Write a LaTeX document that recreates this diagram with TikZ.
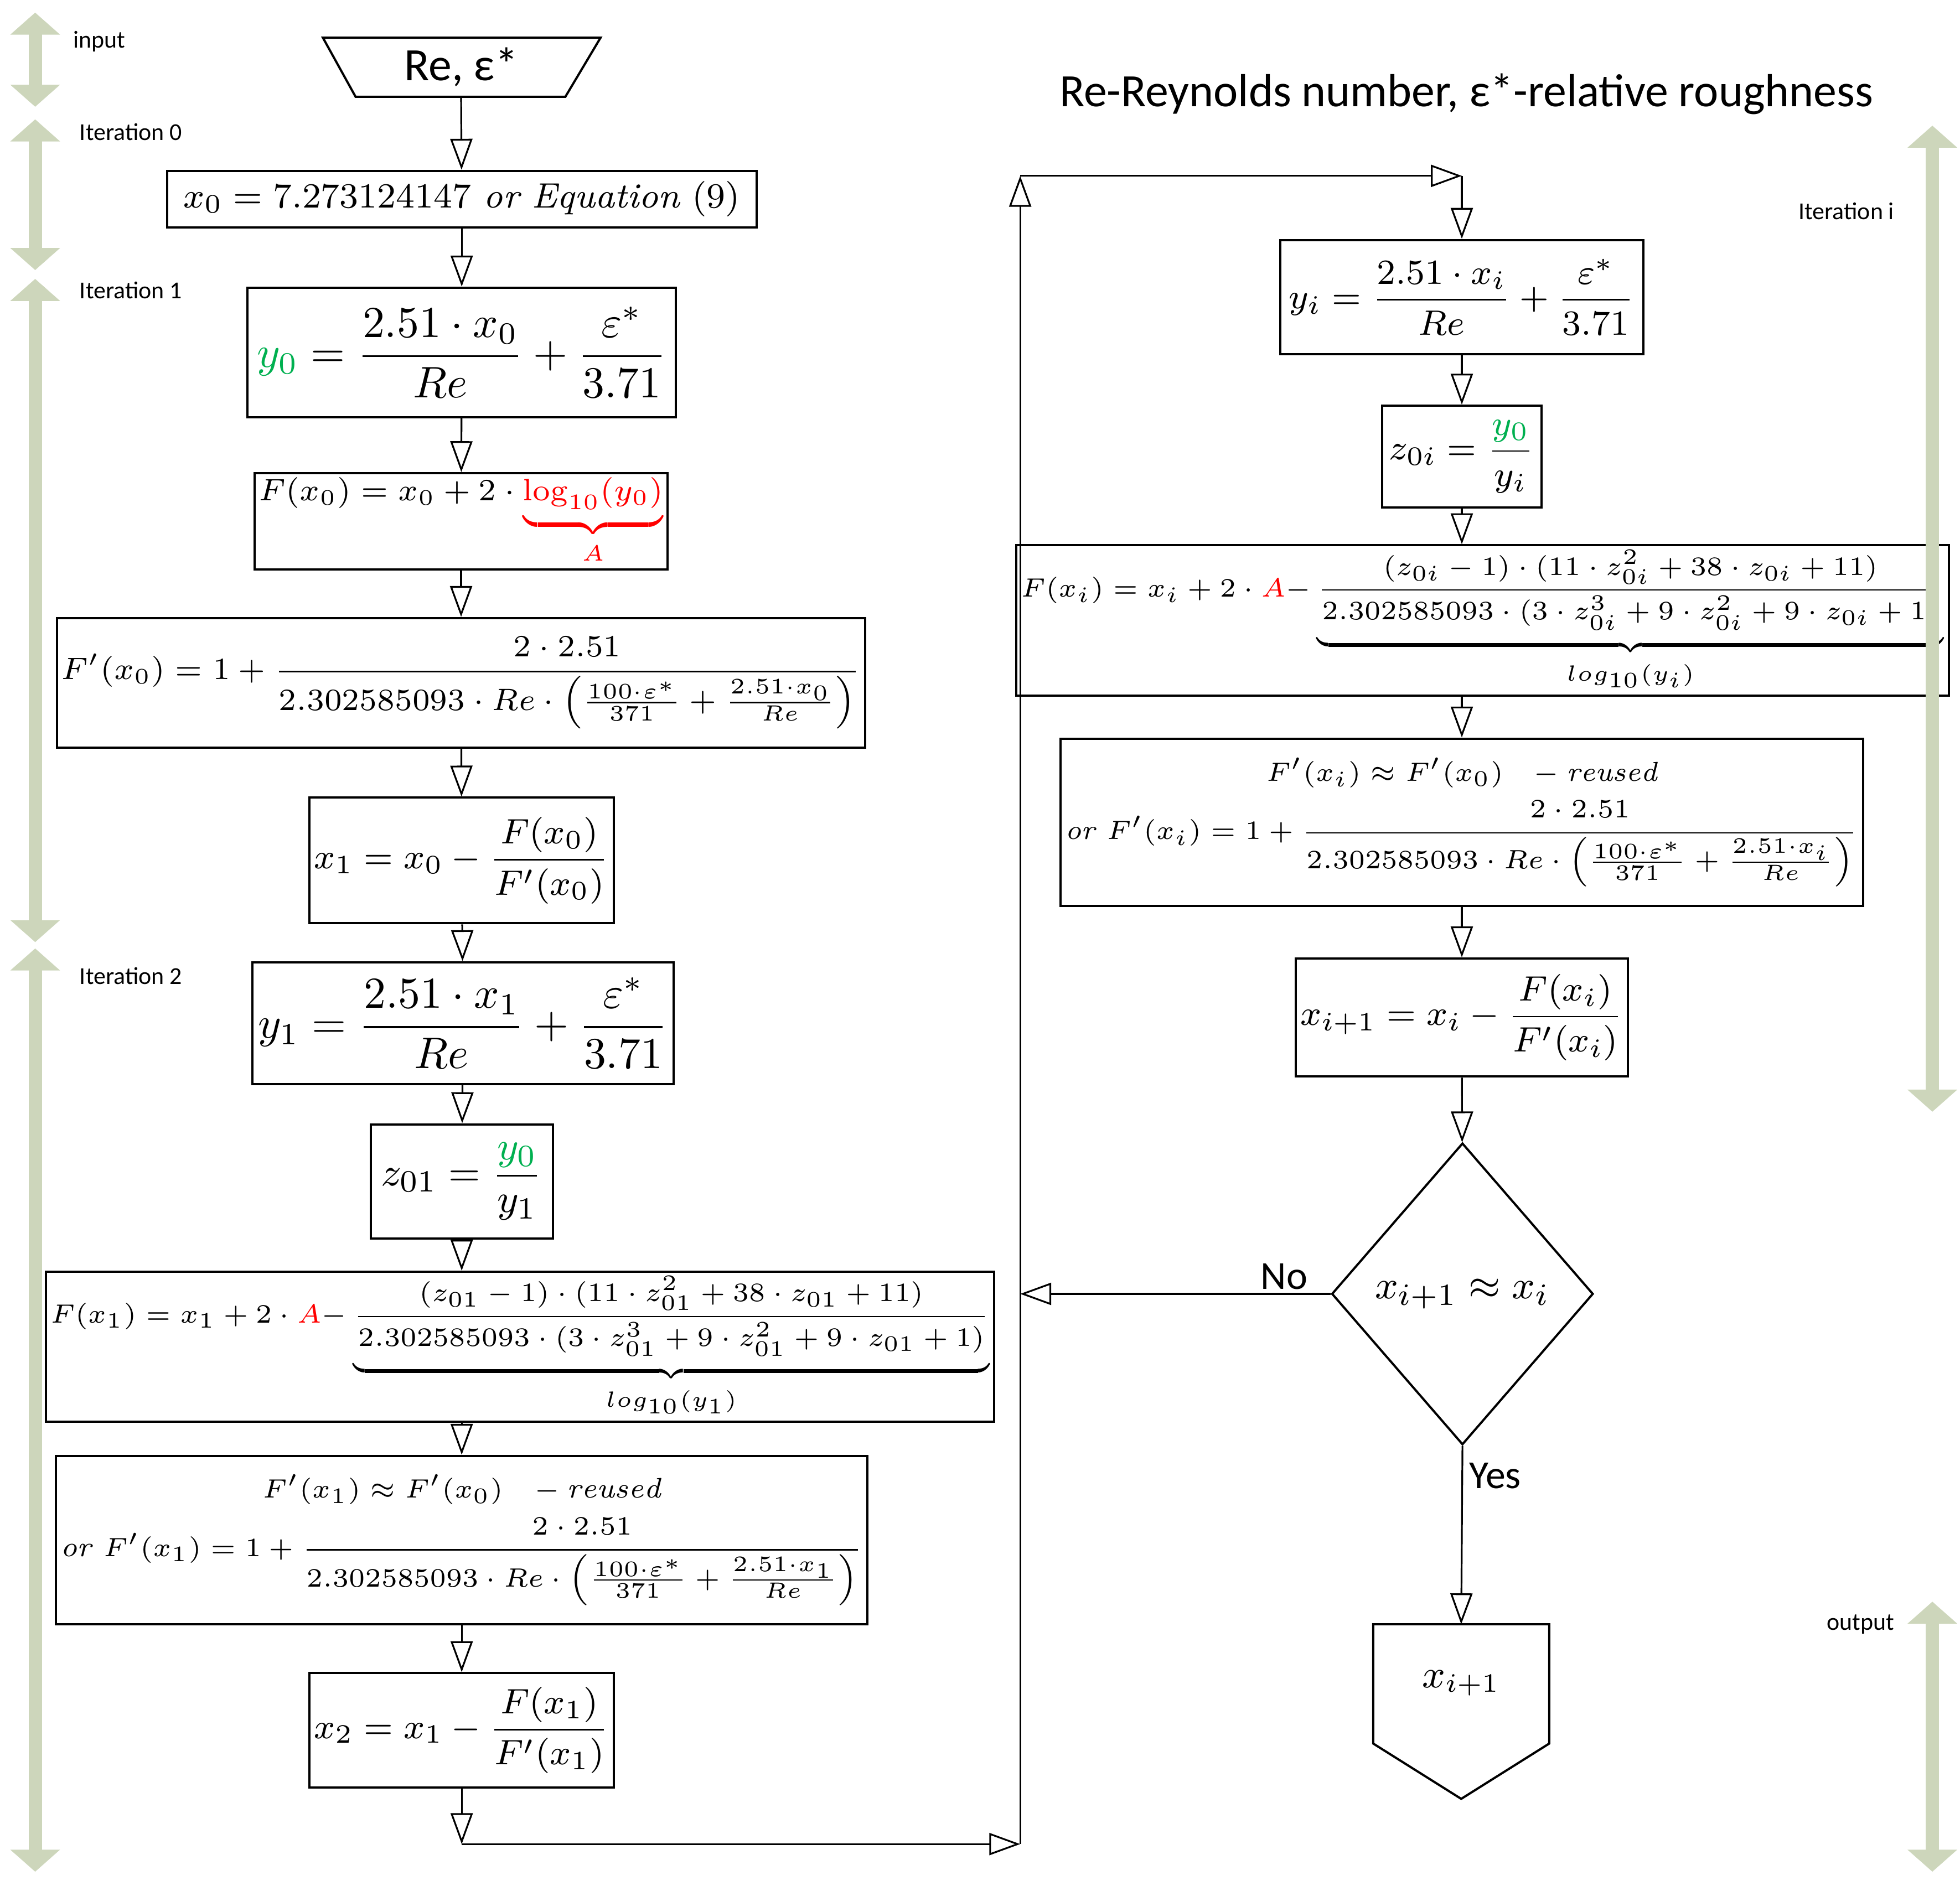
\documentclass[tikz,border=0pt]{standalone}
\usepackage{amsmath}
\usepackage{fontspec}
\setsansfont{Carlito}
\usetikzlibrary{shapes.geometric,arrows.meta,calc}
\definecolor{eqgreen}{HTML}{00B050}
\definecolor{spangreen}{HTML}{CDD6BB}
\newcommand{\fs}[1]{\fontsize{#1}{#1}\selectfont}
\begin{document}
\begin{tikzpicture}[x=0.01cm,y=-0.01cm,
  box/.style={draw,rectangle,inner sep=1pt,line width=0.5pt},
  flow/.style={-{Triangle[open,width=5pt,length=7pt]},line width=0.4pt},
  span/.style={{Triangle[width=11pt,length=5pt]}-{Triangle[width=11pt,length=5pt]},line width=3pt,spangreen},
  lbl/.style={font=\sffamily\fs{5.5}}]
\useasboundingbox (0,0) rectangle (1560,1505);

% Input
\draw[line width=0.5pt] (257,30) -- (478,30) -- (450,77) -- (283,77) -- cycle;
\node (in) at (367,53.5) [minimum height=0.47cm,inner sep=0,font=\sffamily\fs{10.5}] {Re, ε*};
\node at (1167,75) [font=\sffamily\fs{10.5}] {Re-Reynolds number, ε*-relative roughness};

% Iterations 0, 1, 2
\node (x0) at (367.5,158.5) [box,minimum width=4.69cm,minimum height=0.45cm,font=\fs{8}]
  {$x_0 = 7.273124147\ \mathit{or\ Equation}\ (9)$};
\node (y0) at (367.5,280.5) [box,minimum width=3.41cm,minimum height=1.03cm,font=\fs{10}]
  {$\textcolor{eqgreen}{y_0} = \dfrac{2.51\cdot x_0}{Re} + \dfrac{\varepsilon^*}{3.71}$};
\node (Fx0) at (367,415) [box,minimum width=3.26cm,minimum height=0.72cm,font=\fs{7}]
  {$F(x_0) = x_0 + 2\cdot \textcolor{red}{\underbrace{\log_{10}(y_0)}_{A}}$};
\node (dFx0) at (367,543.5) [box,minimum width=6.10cm,minimum height=1.03cm,font=\fs{6.6}]
  {$F'(x_0) = 1 + \dfrac{2\cdot 2.51}{2.302585093\cdot Re\cdot\left(\frac{100\cdot\varepsilon^*}{371}+\frac{2.51\cdot x_0}{Re}\right)}$};
\node (x1) at (367.5,685) [box,minimum width=2.39cm,minimum height=1.00cm,font=\fs{8.5}]
  {$x_1 = x_0 - \dfrac{F(x_0)}{F'(x_0)}$};
\node (y1) at (368.5,814.5) [box,minimum width=3.35cm,minimum height=0.97cm,font=\fs{10}]
  {$y_1 = \dfrac{2.51\cdot x_1}{Re} + \dfrac{\varepsilon^*}{3.71}$};
\node (z01) at (367.5,940.5) [box,minimum width=1.45cm,minimum height=0.91cm,font=\fs{9.5}]
  {$z_{01} = \dfrac{\textcolor{eqgreen}{y_0}}{y_1}$};
\node (Fx1) at (414,1072) [box,minimum width=7.08cm,minimum height=1.02cm,font=\fs{5.7}]
  {$F(x_1) = x_1 + 2\cdot\textcolor{red}{A}{-}\underbrace{\dfrac{(z_{01}-1)\cdot(11\cdot z_{01}^2+38\cdot z_{01}+11)}{2.302585093\cdot(3\cdot z_{01}^3+9\cdot z_{01}^2+9\cdot z_{01}+1)}}_{log_{10}(y_1)}$};
\node (dFx1) at (367.5,1226) [box,minimum width=6.19cm,minimum height=1.34cm,font=\fs{6.4},align=center]
  {$F'(x_1)\approx F'(x_0)\ \ -\mathit{reused}$\\[2pt]
   $\mathit{or}\ F'(x_1) = 1 + \dfrac{2\cdot 2.51}{2.302585093\cdot Re\cdot\left(\frac{100\cdot\varepsilon^*}{371}+\frac{2.51\cdot x_1}{Re}\right)}$};
\node (x2) at (367.5,1377.5) [box,minimum width=2.35cm,minimum height=0.91cm,font=\fs{8.5}]
  {$x_2 = x_1 - \dfrac{F(x_1)}{F'(x_1)}$};

% Iteration i
\node (yi) at (1163.5,236.5) [box,minimum width=2.89cm,minimum height=0.91cm,font=\fs{8.5}]
  {$y_i = \dfrac{2.51\cdot x_i}{Re} + \dfrac{\varepsilon^*}{3.71}$};
\node (z0i) at (1163.5,363.5) [box,minimum width=1.27cm,minimum height=0.81cm,font=\fs{8.5}]
  {$z_{0i} = \dfrac{\textcolor{eqgreen}{y_0}}{y_i}$};
\node (Fxi) at (1180,494) [box,minimum width=6.80cm,minimum height=1.02cm,font=\fs{5.6}]
  {$F(x_i) = x_i + 2\cdot\textcolor{red}{A}{-}\underbrace{\dfrac{(z_{0i}-1)\cdot(11\cdot z_{0i}^2+38\cdot z_{0i}+11)}{2.302585093\cdot(3\cdot z_{0i}^3+9\cdot z_{0i}^2+9\cdot z_{0i}+1)}}_{log_{10}(y_i)}$};
\node (dFxi) at (1163.5,654.5) [box,minimum width=5.79cm,minimum height=1.33cm,font=\fs{6.2},align=center]
  {$F'(x_i)\approx F'(x_0)\ \ -\mathit{reused}$\\[2pt]
   $\mathit{or}\ F'(x_i) = 1 + \dfrac{2\cdot 2.51}{2.302585093\cdot Re\cdot\left(\frac{100\cdot\varepsilon^*}{371}+\frac{2.51\cdot x_i}{Re}\right)}$};
\node (xi1) at (1163.5,810) [box,minimum width=2.55cm,minimum height=0.94cm,font=\fs{8.5}]
  {$x_{i+1} = x_i - \dfrac{F(x_i)}{F'(x_i)}$};
\node (dec) at (1164,1030) [draw,diamond,inner sep=0,line width=0.5pt,minimum width=2.08cm,minimum height=2.40cm,font=\fs{9.5}]
  {$x_{i+1}\approx x_i$};

% Output
\draw[line width=0.5pt] (1093,1293) -- (1233,1293) -- (1233,1388) -- (1163,1432) -- (1093,1388) -- cycle;
\coordinate (outtop) at (1163,1293);
\node (out) at (1163,1340) [font=\fs{9}] {$x_{i+1}$};

% Connectors
\draw[flow] (in.south) -- (x0);
\draw[flow] (x0) -- (y0);
\draw[flow] (y0) -- (Fx0);
\draw[flow] (Fx0) -- (dFx0);
\draw[flow] (dFx0) -- (x1);
\draw[flow] (x1) -- (y1);
\draw[flow] (y1) -- (z01);
\draw[flow] (z01.south) -- (z01.south |- Fx1.north);
\draw[flow] (z01.south |- Fx1.south) -- (dFx1);
\draw[flow] (dFx1) -- (x2);
\coordinate (c1) at (367.5,1468);
\coordinate (c2) at (812,1468);
\coordinate (c3) at (812,140);
\coordinate (c4) at (1163.5,140);
\coordinate (c5) at (812,1030);
\draw[flow] (x2) -- (c1);
\draw[flow] (c1) -- (c2);
\draw[flow] (c2) -- (c3);
\draw[flow] (c3) -- (c4);
\draw[flow] (c4) -- (yi);
\draw[flow] (yi) -- (z0i);
\draw[flow] (z0i.south) -- (z0i.south |- Fxi.north);
\draw[flow] (z0i.south |- Fxi.south) -- (dFxi);
\draw[flow] (dFxi) -- (xi1);
\draw[flow] (xi1) -- (dec);
\draw[flow] (dec.west) -- (c5);
\draw[flow] (dec.south) -- (outtop);
\node at (1022,1016) [font=\sffamily\fs{9}] {No};
\node at (1190,1175) [font=\sffamily\fs{9}] {Yes};

% Spans
\draw[span] (28,10) -- (28,85);
\draw[span] (28,95) -- (28,215);
\draw[span] (28,222) -- (28,750);
\draw[span] (28,755) -- (28,1490);
\draw[span] (1538,100) -- (1538,885);
\draw[span] (1538,1275) -- (1538,1490);
\node at (46,33) [lbl,anchor=west] {input};
\node at (51,105) [lbl,anchor=west] {Iteration 0};
\node at (51,231) [lbl,anchor=west] {Iteration 1};
\node at (51,777) [lbl,anchor=west] {Iteration 2};
\node at (1520,168) [lbl,anchor=east] {Iteration i};
\node at (1520,1293) [lbl,anchor=east] {output};

\end{tikzpicture}
\end{document}
